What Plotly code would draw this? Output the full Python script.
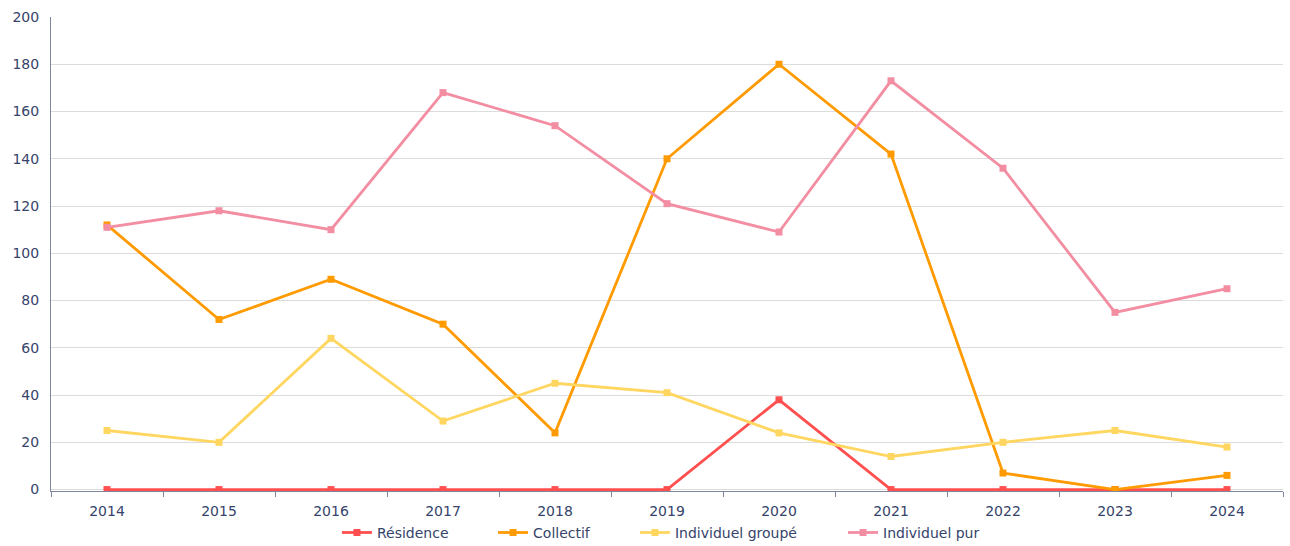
import plotly.graph_objects as go

years = ["2014", "2015", "2016", "2017", "2018", "2019", "2020", "2021", "2022", "2023", "2024"]
residence = [0, 0, 0, 0, 0, 0, 38, 0, 0, 0, 0]
collectif = [112, 72, 89, 70, 24, 140, 180, 142, 7, 0, 6]
individuel_groupe = [25, 20, 64, 29, 45, 41, 24, 14, 20, 25, 18]
individuel_pur = [111, 118, 110, 168, 154, 121, 109, 173, 136, 75, 85]

series = [
    ("Résidence", residence, "#FF4F4F"),
    ("Collectif", collectif, "#FF9A00"),
    ("Individuel groupé", individuel_groupe, "#FFD660"),
    ("Individuel pur", individuel_pur, "#F28DA2"),
]

# each series gets its own legend box so the entries can be spread out
legend_ids = ["legend", "legend2", "legend3", "legend4"]
legend_x = [0.2321, 0.3588, 0.4740, 0.6429]

axis_color = "#7F879F"
text_color = "#36436A"

fig = go.Figure()
for (name, vals, color), lid in zip(series, legend_ids):
    fig.add_trace(go.Scatter(
        x=years, y=vals, name=name, mode="lines+markers",
        line=dict(color=color, width=2.8),
        marker=dict(symbol="square", size=7, color=color),
        legend=lid,
    ))

legends = {}
for lid, lx in zip(legend_ids, legend_x):
    legends[lid] = dict(orientation="h", x=lx, xanchor="left",
                        yref="container", y=0.024, yanchor="middle",
                        bgcolor="rgba(0,0,0,0)",
                        font=dict(size=14, color=text_color), itemwidth=30)

fig.update_layout(
    width=1290, height=546,
    margin=dict(l=51, r=7, t=17, b=55),
    paper_bgcolor="white", plot_bgcolor="white",
    font=dict(family="DejaVu Sans, Verdana, sans-serif", size=14, color=text_color),
    showlegend=True,
    xaxis=dict(type="category", range=[-0.5, 10.5], tickson="boundaries",
               ticks="outside", ticklen=5, tickcolor=axis_color,
               showline=True, linecolor=axis_color, linewidth=1,
               showgrid=False, zeroline=False, ticklabelstandoff=7,
               automargin=False, layer="below traces"),
    yaxis=dict(range=[-0.6, 200], tickvals=list(range(0, 201, 20)),
               showline=True, linecolor=axis_color, linewidth=1,
               gridcolor="#DCDCDC", gridwidth=1, zeroline=False, ticks="",
               ticklabelstandoff=8, automargin=False, layer="below traces"),
    **legends,
)

fig.write_html("out.html")
